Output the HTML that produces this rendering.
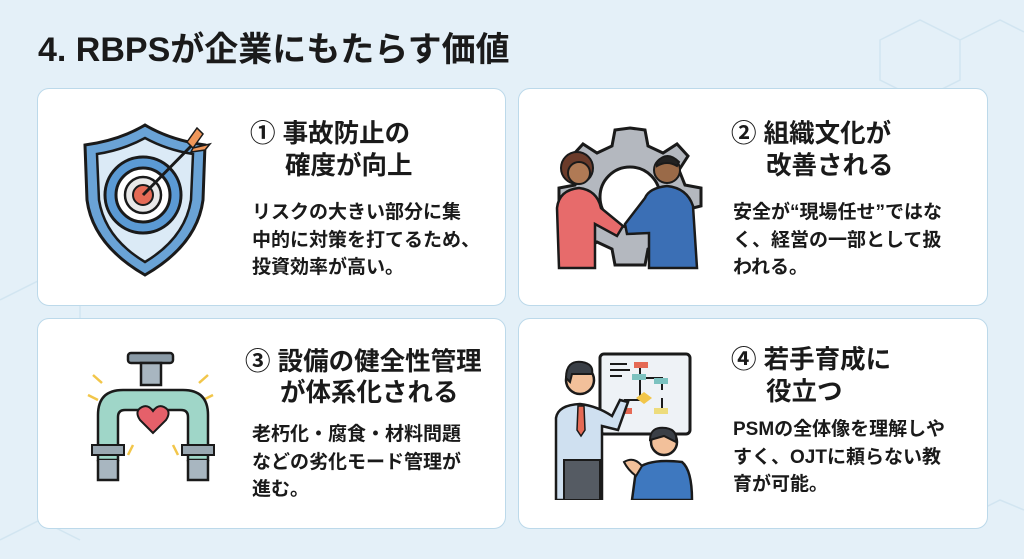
<!DOCTYPE html>
<html><head><meta charset="utf-8"><style>
*{margin:0;padding:0;box-sizing:border-box}
body{width:1024px;height:559px;overflow:hidden;background:#e4f0f8;font-family:"Liberation Sans","Noto Sans CJK JP",sans-serif;position:relative;color:#1a1a1a}
.t{position:absolute;left:38px;top:22px;font-size:34px;font-weight:bold}
.c{position:absolute;background:#fff;border:1.5px solid #bcd9ea;border-radius:12px}
.h{position:absolute;font-size:25.5px;font-weight:bold;line-height:32px;white-space:nowrap}
.b{position:absolute;font-size:19px;font-weight:bold;line-height:27.5px;white-space:nowrap}
svg{position:absolute}
</style></head><body>
<svg width="1024" height="559" style="left:0;top:0" fill="none" stroke="#d2e5f1" stroke-width="1.5">
<path d="M0 300 L40 280 L80 300 L80 340 M880 40 L920 20 L960 40 L960 80 L920 100 L880 80Z M960 40 L1000 20 L1024 32 M0 540 L40 520 L80 540 M960 520 L1000 500 L1024 510"/>
</svg>
<div class="t">4. RBPSが企業にもたらす価値</div>

<div class="c" style="left:37px;top:88px;width:469px;height:218px"></div>
<div class="c" style="left:518px;top:88px;width:470px;height:218px"></div>
<div class="c" style="left:37px;top:318px;width:469px;height:211px"></div>
<div class="c" style="left:518px;top:318px;width:470px;height:211px"></div>

<svg style="left:75px;top:120px" width="150" height="160" viewBox="0 0 150 160">
<path d="M70 5 Q45 20 10 25 L12 80 Q18 125 70 155 Q122 125 128 80 L130 25 Q95 20 70 5Z" fill="#6aa3d6" stroke="#1a1a1a" stroke-width="3"/>
<path d="M70 18 Q48 30 22 34 L24 80 Q30 118 70 142 Q110 118 116 80 L118 34 Q92 30 70 18Z" fill="#dbeaf6" stroke="#1a1a1a" stroke-width="2.5"/>
<circle cx="68" cy="75" r="38" fill="#5b9ad4" stroke="#1a1a1a" stroke-width="3"/>
<circle cx="68" cy="75" r="27" fill="#fff" stroke="#1a1a1a" stroke-width="3"/>
<circle cx="68" cy="75" r="18" fill="#e8e8e8" stroke="#1a1a1a" stroke-width="2.5"/>
<circle cx="68" cy="75" r="10" fill="#e56a55" stroke="#1a1a1a" stroke-width="2"/>
<line x1="68" y1="75" x2="122" y2="20" stroke="#1a1a1a" stroke-width="3"/>
<path d="M112 22 L122 8 L128 14 L118 28Z M118 28 L135 24 L130 30 L116 32Z" fill="#f0975a" stroke="#1a1a1a" stroke-width="1.5"/>
</svg>
<div class="h" style="left:250px;top:118px">① 事故防止の</div>
<div class="h" style="left:285px;top:150px">確度が向上</div>
<div class="b" style="left:252px;top:199px">リスクの大きい部分に集<br>中的に対策を打てるため、<br>投資効率が高い。</div>

<svg style="left:545px;top:118px" width="170" height="160" viewBox="0 0 170 160">
<path d="M85 10 L100 12 L103 28 L118 35 L132 26 L143 38 L134 52 L140 67 L156 70 L156 88 L140 92 L134 107 L143 121 L132 133 L118 124 L103 131 L100 147 L70 147 L67 131 L52 124 L38 133 L27 121 L36 107 L30 92 L14 88 L14 70 L30 67 L36 52 L27 38 L38 26 L52 35 L67 28 L70 12Z" fill="#b4b8bf" stroke="#1a1a1a" stroke-width="3"/>
<circle cx="85" cy="79" r="30" fill="#fff" stroke="#1a1a1a" stroke-width="3"/>
<circle cx="32" cy="50" r="16" fill="#6b3b2a" stroke="#1a1a1a" stroke-width="2"/>
<circle cx="34" cy="55" r="11" fill="#b07a55" stroke="#1a1a1a" stroke-width="2"/>
<path d="M12 90 Q14 72 34 70 Q52 72 56 90 L78 108 L72 118 L50 106 L50 150 L14 150Z" fill="#e76b6b" stroke="#1a1a1a" stroke-width="2.5"/>
<circle cx="122" cy="52" r="13" fill="#9a6a48" stroke="#1a1a1a" stroke-width="2"/>
<path d="M112 44 Q122 32 134 44 L132 48 Q122 42 112 48Z" fill="#222" stroke="#1a1a1a" stroke-width="2"/>
<path d="M100 80 Q104 70 122 68 Q142 70 148 88 L152 150 L104 150 L104 115 L82 116 L80 106 Z" fill="#3b6fb5" stroke="#1a1a1a" stroke-width="2.5"/>
</svg>
<div class="h" style="left:731px;top:118px">② 組織文化が</div>
<div class="h" style="left:766px;top:150px">改善される</div>
<div class="b" style="left:733px;top:199px">安全が“現場任せ”ではな<br>く、経営の一部として扱<br>われる。</div>

<svg style="left:78px;top:345px" width="150" height="155" viewBox="0 0 150 155">
<g stroke="#f2c64a" stroke-width="2.5"><line x1="10" y1="50" x2="20" y2="55"/><line x1="15" y1="30" x2="24" y2="38"/><line x1="135" y1="50" x2="125" y2="55"/><line x1="130" y1="30" x2="121" y2="38"/><line x1="55" y1="100" x2="50" y2="110"/><line x1="95" y1="100" x2="100" y2="110"/></g>
<rect x="50" y="8" width="45" height="10" rx="3" fill="#8a9aa6" stroke="#1a1a1a" stroke-width="2.5"/>
<rect x="63" y="18" width="20" height="22" fill="#a8b6c0" stroke="#1a1a1a" stroke-width="2.5"/>
<path d="M20 70 Q20 45 45 45 L105 45 Q130 45 130 70 L130 115 L110 115 L110 72 Q110 65 103 65 L47 65 Q40 65 40 72 L40 115 L20 115Z" fill="#9fd6c8" stroke="#1a1a1a" stroke-width="2.5"/>
<rect x="14" y="100" width="32" height="10" fill="#9aa8b2" stroke="#1a1a1a" stroke-width="2"/>
<rect x="104" y="100" width="32" height="10" fill="#9aa8b2" stroke="#1a1a1a" stroke-width="2"/>
<path d="M20 115 L20 135 L40 135 L40 115 M110 115 L110 135 L130 135 L130 115" fill="#a8b6c0" stroke="#1a1a1a" stroke-width="2.5"/>
<path d="M75 88 L62 75 Q56 66 64 62 Q70 59 75 66 Q80 59 86 62 Q94 66 88 75Z" fill="#e5606a" stroke="#1a1a1a" stroke-width="2"/>
</svg>
<div class="h" style="left:245px;top:346px">③ 設備の健全性管理</div>
<div class="h" style="left:280px;top:377px">が体系化される</div>
<div class="b" style="left:252px;top:421px">老朽化・腐食・材料問題<br>などの劣化モード管理が<br>進む。</div>

<svg style="left:552px;top:350px" width="150" height="150" viewBox="0 0 150 150">
<rect x="48" y="4" width="90" height="80" rx="4" fill="#eef2f6" stroke="#1a1a1a" stroke-width="3"/>
<g stroke="#1a1a1a" stroke-width="2"><line x1="58" y1="14" x2="75" y2="14"/><line x1="58" y1="20" x2="78" y2="20"/><line x1="58" y1="26" x2="70" y2="26"/><path d="M88 16 V30 M88 28 H110 V40 M88 30 V50 M72 56 V64 M92 50 H72 M110 48 V60" fill="none"/></g>
<rect x="82" y="12" width="14" height="6" fill="#e56a55"/><rect x="80" y="24" width="14" height="6" fill="#7cc2c0"/><rect x="102" y="28" width="14" height="6" fill="#7cc2c0"/><path d="M92 42 L100 48 L92 54 L84 48Z" fill="#f2c64a"/><rect x="66" y="58" width="14" height="6" fill="#e56a55"/><rect x="102" y="58" width="14" height="6" fill="#eddc7c"/>
<circle cx="28" cy="30" r="14" fill="#f2c09a" stroke="#1a1a1a" stroke-width="2.5"/>
<path d="M14 28 Q14 10 30 12 Q42 14 40 24 L20 24 L18 32Z" fill="#3a3f46" stroke="#1a1a1a" stroke-width="2"/>
<path d="M4 150 L4 68 Q6 55 28 54 Q45 56 60 66 L68 50 L76 52 L66 80 L50 76 L50 150Z" fill="#cfe0f0" stroke="#1a1a1a" stroke-width="2.5"/>
<path d="M26 56 L32 56 L33 80 L29 86 L25 80Z" fill="#e56a55" stroke="#1a1a1a" stroke-width="1.5"/>
<rect x="12" y="110" width="36" height="40" fill="#555b63" stroke="#1a1a1a" stroke-width="2"/>
<circle cx="112" cy="92" r="13" fill="#f2c09a" stroke="#1a1a1a" stroke-width="2.5"/>
<path d="M98 90 Q98 76 114 78 Q126 80 124 92 L112 86Z" fill="#3a3f46" stroke="#1a1a1a" stroke-width="2"/>
<path d="M80 150 L84 120 Q96 108 130 112 Q140 120 140 150Z" fill="#3e78bf" stroke="#1a1a1a" stroke-width="2.5"/>
<path d="M72 112 Q82 106 90 116 L84 126 Q76 120 72 112Z" fill="#f2c09a" stroke="#1a1a1a" stroke-width="2"/>
</svg>
<div class="h" style="left:731px;top:344px">④ 若手育成に</div>
<div class="h" style="left:766px;top:376px">役立つ</div>
<div class="b" style="left:733px;top:416px">PSMの全体像を理解しや<br>すく、OJTに頼らない教<br>育が可能。</div>
</body></html>
